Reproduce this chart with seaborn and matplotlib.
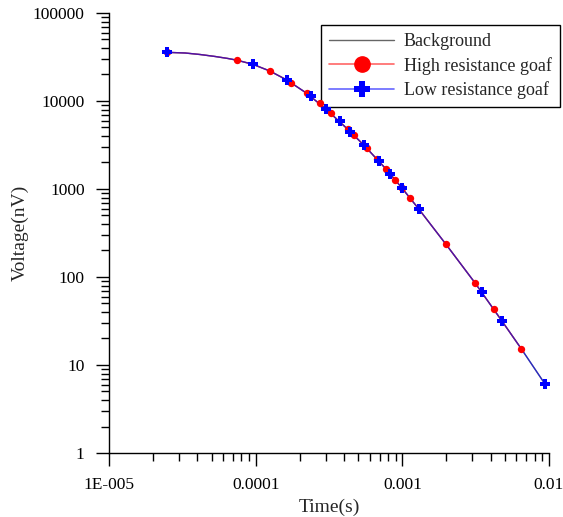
import numpy as np
import pandas as pd
import seaborn as sns
import matplotlib
matplotlib.use("Agg")
import matplotlib.pyplot as plt
from matplotlib.lines import Line2D
from matplotlib.ticker import FixedLocator, FixedFormatter, LogLocator, NullFormatter

# (time in s, voltage in nV)
high_time = [2.50e-5, 7.50e-5, 1.25e-4, 1.75e-4, 2.23e-4, 2.75e-4, 3.25e-4,
             4.23e-4, 4.70e-4, 5.72e-4, 6.68e-4, 7.70e-4, 8.87e-4, 9.90e-4,
             1.13e-3, 1.985e-3, 3.145e-3, 4.22e-3, 6.47e-3]
high_volt = [35700, 29000, 21900, 16150, 12230, 9410, 7360,
             4800, 4075, 2924, 2193, 1701, 1276, 1035,
             784, 235, 84.8, 43.0, 15.3]

low_time = [2.50e-5, 9.55e-5, 1.63e-4, 2.37e-4, 3.02e-4, 3.76e-4, 4.43e-4,
            5.48e-4, 6.90e-4, 8.24e-4, 9.90e-4, 1.29e-3, 3.475e-3, 4.76e-3,
            9.39e-3]
low_volt = [35700, 26130, 17320, 11400, 8050, 5970, 4480,
            3139, 2080, 1469, 1035, 597, 67.0, 31.9,
            6.08]

# the curve itself
bg_time = [2.50e-5, 3.30e-5, 4.17e-5, 5.28e-5, 6.47e-5, 7.50e-5, 9.55e-5,
           1.25e-4, 1.63e-4, 2.23e-4, 3.02e-4, 4.23e-4, 5.48e-4, 7.70e-4,
           9.90e-4, 1.29e-3, 1.985e-3, 3.145e-3, 4.76e-3, 6.47e-3, 9.39e-3]
bg_volt = [35700, 35100, 33750, 32050, 30400, 29000, 26130,
           21900, 17320, 12230, 8050, 4800, 3139, 1701,
           1035, 597, 235, 84.8, 31.9, 15.3, 6.08]

x_ticks = [1e-5, 1e-4, 1e-3, 1e-2]
x_labels = ["1E-005", "0.0001", "0.001", "0.01"]
y_ticks = [1, 10, 100, 1000, 10000, 100000]
y_labels = ["1", "10", "100", "1000", "10000", "100000"]

sns.set_style("ticks")
plt.rcParams["font.family"] = ["Liberation Serif", "DejaVu Serif"]

fig = plt.figure(figsize=(5.63, 5.17), dpi=100)
ax = fig.add_axes([0.1936, 0.1238, 0.7815, 0.8511])

bg = pd.DataFrame({"t": bg_time, "v": bg_volt})
hi = pd.DataFrame({"t": high_time, "v": high_volt})
lo = pd.DataFrame({"t": low_time, "v": low_volt})

# lines (semi transparent) over the traced curve, blue on top
sns.lineplot(data=bg, x="t", y="v", ax=ax, color="black", lw=1, alpha=0.6,
             estimator=None, sort=False, zorder=6)
sns.lineplot(data=bg[bg.t <= max(high_time)], x="t", y="v", ax=ax, color="red",
             lw=1, alpha=0.6, estimator=None, sort=False, zorder=6)
sns.lineplot(data=bg, x="t", y="v", ax=ax, color="blue", lw=1, alpha=0.6,
             estimator=None, sort=False, zorder=6)

# markers
sns.scatterplot(data=hi, x="t", y="v", ax=ax, color="red", marker="o", s=28,
                linewidth=0, zorder=7)
sns.scatterplot(data=lo, x="t", y="v", ax=ax, color="blue", marker="P", s=42,
                linewidth=0, zorder=8)

ax.set_xscale("log")
ax.set_yscale("log")
ax.set_xlim(1e-5, 1e-2)
ax.set_ylim(1, 1e5)

ax.xaxis.set_major_locator(FixedLocator(x_ticks))
ax.xaxis.set_major_formatter(FixedFormatter(x_labels))
ax.yaxis.set_major_locator(FixedLocator(y_ticks))
ax.yaxis.set_major_formatter(FixedFormatter(y_labels))
ax.xaxis.set_minor_locator(LogLocator(base=10, subs=np.arange(2, 10), numticks=20))
ax.yaxis.set_minor_locator(LogLocator(base=10, subs=np.arange(2, 10), numticks=20))
ax.xaxis.set_minor_formatter(NullFormatter())
ax.yaxis.set_minor_formatter(NullFormatter())

ax.tick_params(which="major", direction="out", length=9.5, width=1, labelsize=12.5,
               colors="black", pad=8)
ax.tick_params(which="minor", direction="out", length=5.5, width=1, colors="black")
for s in ["left", "bottom"]:
    ax.spines[s].set_linewidth(1)
    ax.spines[s].set_color("black")
sns.despine(ax=ax)

ax.set_xlabel("Time(s)", fontsize=14, labelpad=4)
ax.set_ylabel("Voltage(nV)", fontsize=14, labelpad=3)

handles = [
    Line2D([], [], color="black", alpha=0.6, lw=1),
    Line2D([], [], color=(1, 0, 0, 0.6), lw=1.2, marker="o", markersize=11,
           markerfacecolor="red", markeredgecolor="red"),
    Line2D([], [], color=(0, 0, 1, 0.6), lw=1.2, marker="P", markersize=12,
           markerfacecolor="blue", markeredgecolor="blue", markeredgewidth=0),
]
labels = ["Background", "High resistance goaf", "Low resistance goaf"]
leg = ax.legend(handles, labels, loc="upper right", bbox_to_anchor=(1.025, 0.972),
                fontsize=13, frameon=True, fancybox=False, handlelength=3.6,
                borderpad=0.45, labelspacing=0.36, handletextpad=0.55,
                borderaxespad=0)
leg.get_frame().set_edgecolor("black")
leg.get_frame().set_linewidth(1)
leg.get_frame().set_alpha(1)
leg.set_zorder(5)

fig.savefig("out.png", dpi=100)
